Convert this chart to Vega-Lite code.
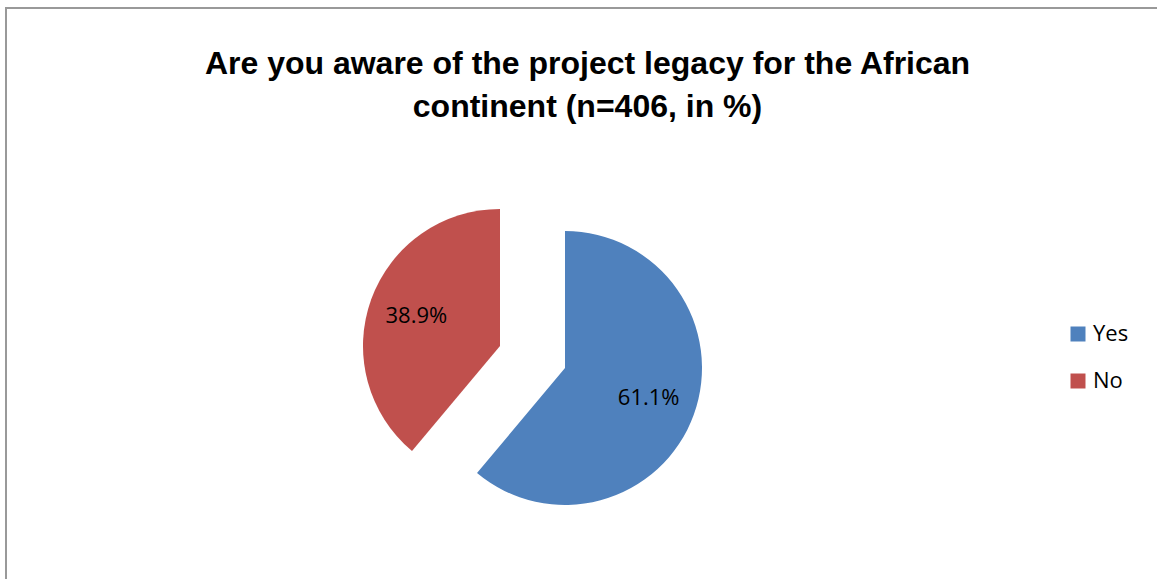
{
  "$schema": "https://vega.github.io/schema/vega-lite/v6.json",
  "width": 1154,
  "height": 574,
  "autosize": {"type": "none"},
  "padding": {"left": 6, "top": 8, "right": 0, "bottom": 0},
  "background": "white",
  "view": {"stroke": "#999999", "strokeWidth": 2, "fill": null},
  "config": {
    "font": "Open Sans"
  },
  "title": {
    "text": ["Are you aware of the project legacy for the African", "continent (n=406, in %)"],
    "font": "Liberation Sans",
    "fontSize": 32,
    "fontWeight": "bold",
    "color": "#000000",
    "lineHeight": 43.5,
    "anchor": "middle",
    "frame": "group",
    "orient": "top",
    "offset": -116,
    "dx": 4.5
  },
  "data": {
    "values": [
      {"answer": "Yes", "value": 0.611},
      {"answer": "No", "value": 0.389}
    ]
  },
  "encoding": {
    "theta": {"field": "value", "type": "quantitative", "stack": true},
    "order": {"field": "answer", "sort": "descending"},
    "color": {
      "field": "answer",
      "type": "nominal",
      "scale": {"domain": ["Yes", "No"], "range": ["#4F81BD", "#C0504D"]},
      "legend": {
        "title": null,
        "orient": "none",
        "legendX": 1061,
        "legendY": 315,
        "symbolType": "square",
        "symbolSize": 225,
        "symbolStrokeWidth": 0,
        "labelFont": "Open Sans",
        "labelFontSize": 22,
        "labelColor": "#000000",
        "labelOffset": 4,
        "rowPadding": 25
      }
    }
  },
  "layer": [
    {
      "mark": {"type": "arc", "radius": 137, "x": {"expr": "width/2 - 50.5"}, "y": {"expr": "height/2 + 62"}, "xOffset": 32.5, "yOffset": 11},
      "encoding": {
        "fillOpacity": {"condition": {"test": "datum.answer === 'Yes'", "value": 1}, "value": 0}
      }
    },
    {
      "mark": {"type": "arc", "radius": 137, "x": {"expr": "width/2 - 50.5"}, "y": {"expr": "height/2 + 62"}, "xOffset": -32.5, "yOffset": -11},
      "encoding": {
        "fillOpacity": {"condition": {"test": "datum.answer === 'No'", "value": 1}, "value": 0}
      }
    },
    {
      "mark": {"type": "text", "radius": 89, "fontSize": 22, "font": "Open Sans", "x": {"expr": "width/2 - 50.5"}, "y": {"expr": "height/2 + 62"}, "xOffset": 32.5, "yOffset": 11},
      "encoding": {
        "text": {"field": "value", "type": "quantitative", "format": ".1%"},
        "color": {"value": "#000000"},
        "opacity": {"condition": {"test": "datum.answer === 'Yes'", "value": 1}, "value": 0}
      }
    },
    {
      "mark": {"type": "text", "radius": 89, "fontSize": 22, "font": "Open Sans", "x": {"expr": "width/2 - 50.5"}, "y": {"expr": "height/2 + 62"}, "xOffset": -32.5, "yOffset": -11},
      "encoding": {
        "text": {"field": "value", "type": "quantitative", "format": ".1%"},
        "color": {"value": "#000000"},
        "opacity": {"condition": {"test": "datum.answer === 'No'", "value": 1}, "value": 0}
      }
    }
  ]
}
